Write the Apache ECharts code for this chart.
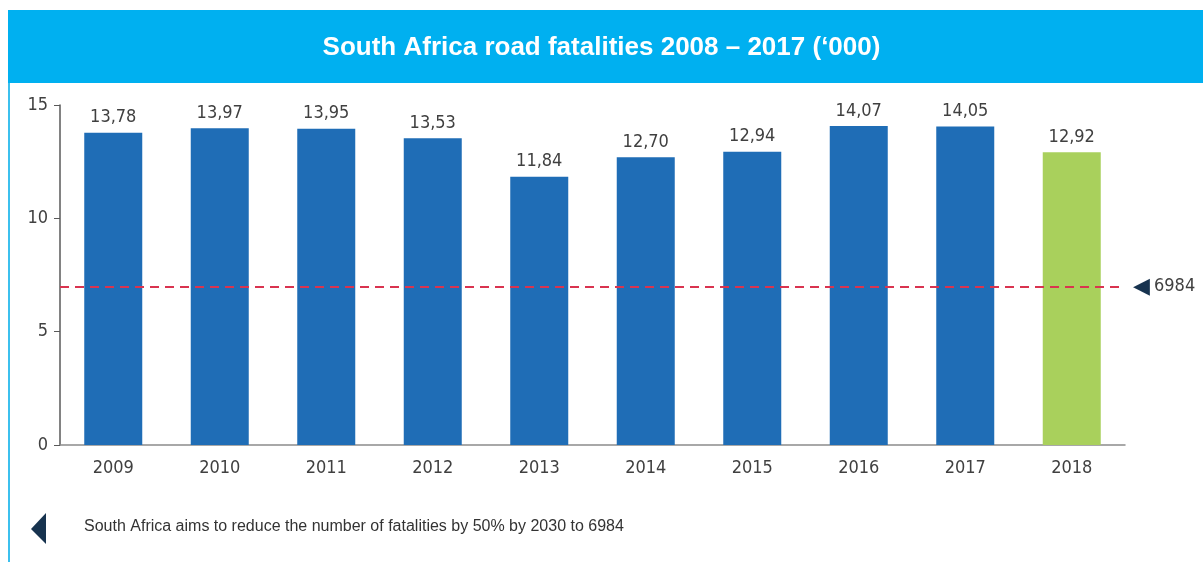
<!DOCTYPE html>
<html><head><meta charset="utf-8">
<script src="https://cdn.jsdelivr.net/npm/echarts@6/dist/echarts.min.js"></script>
<style>html,body{margin:0;padding:0;background:#fff}#c{width:1203px;height:562px}</style>
</head><body><div id="c"></div>
<script>
const categories = ['2009','2010','2011','2012','2013','2014','2015','2016','2017','2018'];
const fatalities = [13.78, 13.97, 13.95, 13.53, 11.84, 12.70, 12.94, 14.07, 14.05, 12.92];
const targetValue = 6.984;
const targetLabel = '6984';
const yTicks = [0, 5, 10, 15];
const titleText = 'South Africa road fatalities 2008 – 2017 (\u2018000)';
const noteText = 'South Africa aims to reduce the number of fatalities by 50% by 2030 to 6984';

const blue = '#1f6db6', green = '#a9d05c';
const narrow = "'Liberation Sans Narrow','DejaVu Sans Condensed',sans-serif";

const chart = echarts.init(document.getElementById('c'));
chart.setOption({
  animation: false,
  backgroundColor: '#fff',
  title: {
    text: titleText, left: 'center', top: 30,
    textStyle: {color: '#fff', fontSize: 26, fontWeight: 'bold', fontFamily: "'Liberation Sans',Arial,sans-serif"}
  },
  grid: {left: 60, right: 78, top: 105, bottom: 117},
  xAxis: {
    type: 'category', data: categories,
    axisLine: {lineStyle: {color: '#8c8c8c', width: 1.5}},
    axisTick: {show: false},
    axisLabel: {color: '#404040', fontSize: 18, fontFamily: narrow, margin: 14}
  },
  yAxis: {
    type: 'value', min: 0, max: 15, interval: 5,
    axisLine: {show: true, lineStyle: {color: '#595959', width: 1.5}},
    axisTick: {show: true, length: 6, lineStyle: {color: '#595959'}},
    splitLine: {show: false},
    axisLabel: {color: '#404040', fontSize: 18, fontFamily: narrow, margin: 12,
      formatter: v => yTicks.includes(v) ? String(v) : ''}
  },
  series: [{
    type: 'bar', barWidth: 58,
    data: fatalities.map((v, i) => ({value: v, itemStyle: {color: i === fatalities.length - 1 ? green : blue}})),
    label: {show: true, position: 'top', distance: 6, color: '#404040', fontSize: 18, fontFamily: narrow,
      formatter: p => p.value.toFixed(2).replace('.', ',')},
    markLine: {
      silent: true, symbol: ['none', 'none'],
      lineStyle: {color: '#d9344f', type: [9, 6], width: 2.2},
      label: {show: true, position: 'end', distance: 8, formatter: '{t|\u25C0}{n|' + targetLabel + '}',
        rich: {t: {color: '#17334f', fontSize: 22, padding: [0, 4, 0, 0]},
               n: {color: '#404040', fontSize: 18, fontFamily: narrow}}},
      data: [{yAxis: targetValue}]
    },
    z: 2
  }],
  graphic: [
    {type: 'rect', z: -1, shape: {x: 8, y: 10, width: 1195, height: 73}, style: {fill: '#00b0f0'}},
    {type: 'rect', z: -1, shape: {x: 8, y: 83, width: 2, height: 479}, style: {fill: '#3cc0ee'}},
    {type: 'polygon', shape: {points: [[46, 513], [46, 544], [31, 529]]}, style: {fill: '#17334f'}},
    {type: 'text', left: 84, top: 519, style: {text: noteText, fill: '#333', fontSize: 16, fontFamily: "'Liberation Sans',Arial,sans-serif"}}
  ]
});
</script></body></html>
